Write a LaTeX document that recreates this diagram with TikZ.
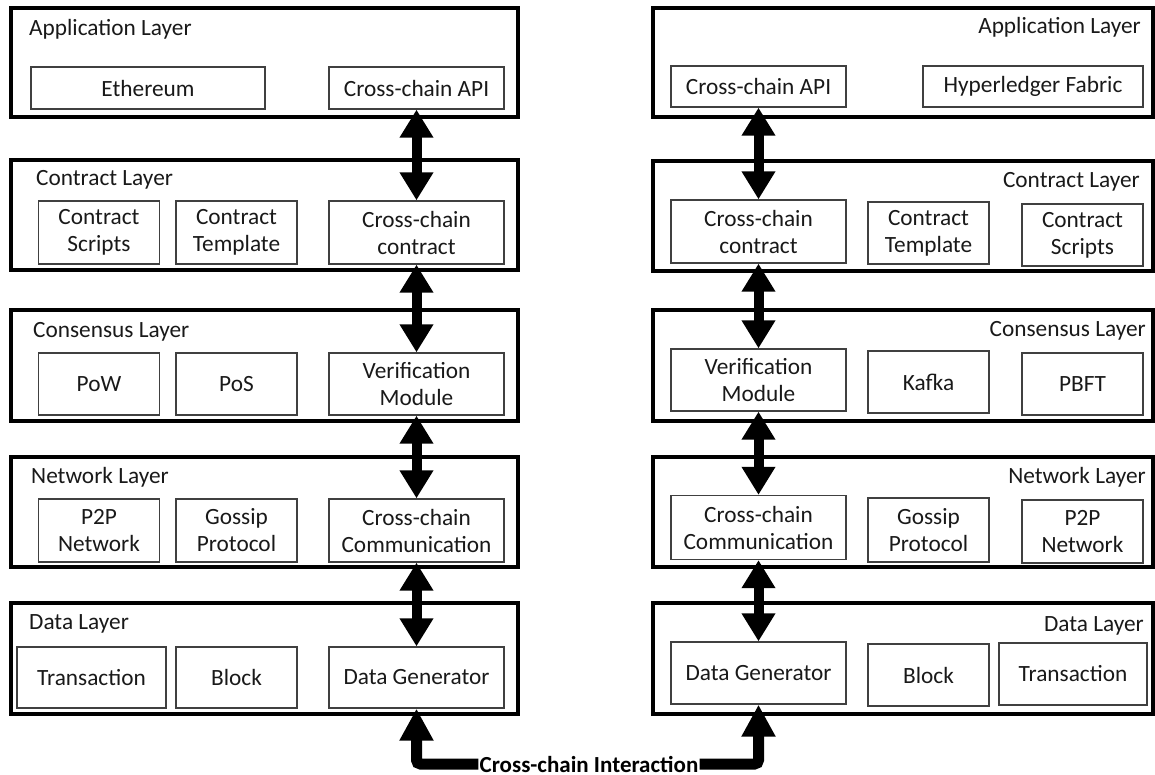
\documentclass[tikz,border=0pt]{standalone}
\usepackage{fontspec}
\setmainfont{Carlito}
\usetikzlibrary{arrows.meta}

\begin{document}
\begin{tikzpicture}[x=1pt,y=-1pt,
  layer/.style={draw=black, line width=3.5pt, inner sep=0pt},
  item/.style={draw=black!75, line width=1.3pt, align=center, inner sep=0pt,
    font=\fontsize{23.3}{27}\selectfont, text=black!90},
  ttl/.style={inner sep=0pt, font=\fontsize{23.3}{27}\selectfont, text=black!90},
  link/.style={line width=10pt,
    {Triangle[width=32pt,length=28pt]}-{Triangle[width=32pt,length=28pt]}},
  xlink/.style={line width=11pt, rounded corners=4pt,
    {Triangle[width=32pt,length=32pt]}-},
  wL/.style={minimum width=175pt},
  wS/.style={minimum width=121pt},
]
\useasboundingbox (0,0) rectangle (1155,775);

% ---------- left chain: layer frames ----------
\node[layer, minimum width=507pt, minimum height=109pt] (LappF) at (264.5,62.5) {};
\node[layer, minimum width=507pt, minimum height=110pt] (LconF) at (264.5,215) {};
\node[layer, minimum width=507pt, minimum height=111pt] (LcsF)  at (264.5,365.5) {};
\node[layer, minimum width=507pt, minimum height=110pt] (LnetF) at (264.5,512) {};
\node[layer, minimum width=507pt, minimum height=111pt] (LdatF) at (264.5,658.5) {};

\node[ttl, anchor=base west] (LappT) at (29,36)  {Application Layer};
\node[ttl, anchor=base west] (LconT) at (36,186) {Contract Layer};
\node[ttl, anchor=base west] (LcsT)  at (33,337) {Consensus Layer};
\node[ttl, anchor=base west] (LnetT) at (31,483) {Network Layer};
\node[ttl, anchor=base west] (LdatT) at (29,629) {Data Layer};

% ---------- left chain: components ----------
\node[item, minimum width=234pt, minimum height=42pt] (eth) at (148,88) {Ethereum};
\node[item, wL, minimum height=42pt] (apiL) at (416.5,88) {Cross-chain API};

\node[item, wS, minimum height=63pt] (scrL) at (99,232.5)    {Contract\\Scripts};
\node[item, wS, minimum height=63pt] (tplL) at (236.5,232.5) {Contract\\Template};
\node[item, wL, minimum height=63pt] (cccL) at (416.5,232.5) {Cross-chain\\contract};

\node[item, wS, minimum height=62pt] (pow)  at (99,384)    {PoW};
\node[item, wS, minimum height=62pt] (pos)  at (236.5,384) {PoS};
\node[item, wL, minimum height=62pt] (verL) at (416.5,384) {Verification\\Module};

\node[item, wS, minimum height=63pt] (p2pL) at (99,530.5)    {P2P\\Network};
\node[item, wS, minimum height=63pt] (gosL) at (236.5,530.5) {Gossip\\Protocol};
\node[item, wL, minimum height=63pt] (comL) at (416.5,530.5) {Cross-chain\\Communication};

\node[item, minimum width=149pt, minimum height=61pt] (txL) at (91.5,677.5) {Transaction};
\node[item, wS, minimum height=61pt] (blkL) at (236.5,677.5) {Block};
\node[item, wL, minimum height=61pt] (dgL)  at (416.5,677.5) {Data Generator};

% ---------- right chain: layer frames ----------
\node[layer, minimum width=500pt, minimum height=109pt] (RappF) at (903,62.5) {};
\node[layer, minimum width=500pt, minimum height=110pt] (RconF) at (903,216) {};
\node[layer, minimum width=500pt, minimum height=111pt] (RcsF)  at (903,365.5) {};
\node[layer, minimum width=500pt, minimum height=110pt] (RnetF) at (903,512) {};
\node[layer, minimum width=500pt, minimum height=111pt] (RdatF) at (903,658.5) {};

\node[ttl, anchor=base east] (RappT) at (1141,34)  {Application Layer};
\node[ttl, anchor=base east] (RconT) at (1140,188) {Contract Layer};
\node[ttl, anchor=base east] (RcsT)  at (1146,336) {Consensus Layer};
\node[ttl, anchor=base east] (RnetT) at (1146,483) {Network Layer};
\node[ttl, anchor=base east] (RdatT) at (1144,631) {Data Layer};

% ---------- right chain: components ----------
\node[item, wL, minimum height=41pt] (apiR) at (758.5,86.5) {Cross-chain API};
\node[item, minimum width=220pt, minimum height=41pt] (hlf) at (1033,86.5) {Hyperledger Fabric};

\node[item, wL, minimum height=63pt] (cccR) at (758.5,231.5) {Cross-chain\\contract};
\node[item, wS, minimum height=62pt] (tplR) at (928.5,233)   {Contract\\Template};
\node[item, wS, minimum height=62pt] (scrR) at (1082.5,235)  {Contract\\Scripts};

\node[item, wL, minimum height=62pt] (verR)  at (758.5,380)  {Verification\\Module};
\node[item, wS, minimum height=62pt] (kafka) at (928.5,382)  {Kafka};
\node[item, wS, minimum height=62pt] (pbft)  at (1082.5,384) {PBFT};

\node[item, wL, minimum height=64pt] (comR) at (758.5,527.5) {Cross-chain\\Communication};
\node[item, wS, minimum height=64pt] (gosR) at (928.5,530)   {Gossip\\Protocol};
\node[item, wS, minimum height=63pt] (p2pR) at (1082.5,531.5) {P2P\\Network};

\node[item, wL, minimum height=62pt] (dgR)  at (758.5,673) {Data Generator};
\node[item, wS, minimum height=62pt] (blkR) at (928.5,675) {Block};
\node[item, minimum width=148pt, minimum height=62pt] (txR) at (1073,674) {Transaction};

% ---------- inter-layer links ----------
\draw[link] (apiL.south) -- (cccL.north);
\draw[link] (cccL.south) -- (verL.north);
\draw[link] (verL.south) -- (comL.north);
\draw[link] (comL.south) -- (dgL.north);

\draw[link] (apiR.south) -- (cccR.north);
\draw[link] (cccR.south) -- (verR.north);
\draw[link] (verR.south) -- (comR.north);
\draw[link] (comR.south) -- (dgR.north);

% ---------- cross-chain interaction ----------
\node[inner sep=0pt, font=\bfseries\fontsize{23}{25}\selectfont] (xlab) at (589,764) {Cross-chain Interaction};
\draw[xlink, shorten >=1pt] (dgL.south) |- (xlab.west);
\draw[xlink, shorten >=1pt] (dgR.south) |- (xlab.east);
\end{tikzpicture}
\end{document}
